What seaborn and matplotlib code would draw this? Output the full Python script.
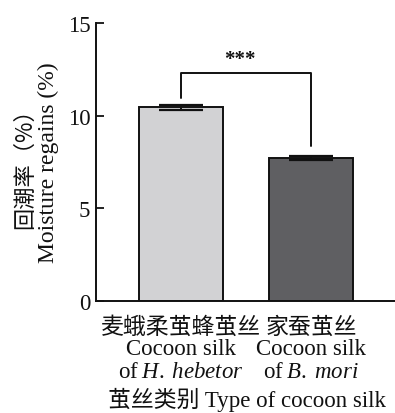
import matplotlib
matplotlib.use("Agg")
import matplotlib.pyplot as plt
import seaborn as sns
import pandas as pd

# Moisture regain of two cocoon silks (mean ± error)
categories = ["H. hebetor", "B. mori"]
cn_names = ["麦蛾柔茧蜂茧丝", "家蚕茧丝"]
species_it = [r"$\;\it{H.\;hebetor}$", r"$\;\it{B.\;mori}$"]
moisture = [10.45, 7.70]
errors = [0.14, 0.10]
bar_colors = ["#d2d2d4", "#5f5e63"]

# significance bracket (data units)
bracket_top = 12.3
bracket_ends = [10.95, 8.36]
sig_label = "***"

sns.set_theme(style="white")
plt.rcParams["font.family"] = ["Liberation Serif", "Noto Sans CJK SC"]
plt.rcParams["mathtext.fontset"] = "custom"
plt.rcParams["mathtext.it"] = "Liberation Serif:italic"
plt.rcParams["mathtext.rm"] = "Liberation Serif"

fig = plt.figure(figsize=(3.95, 4.14), dpi=100)
ax = fig.add_axes([0.243, 0.2705, 0.757, 0.672])

df = pd.DataFrame({"cat": categories, "val": moisture})
sns.barplot(data=df, x="cat", y="val", hue="cat", palette=bar_colors,
            width=0.65, edgecolor="#111111", linewidth=1.4,
            errorbar=None, legend=False, ax=ax)
ax.errorbar(range(len(categories)), moisture, yerr=errors, fmt="none",
            ecolor="#111111", elinewidth=1.4, capsize=15.5, capthick=1.6)

# bracket and stars
ax.plot([0, 0, 1, 1], [bracket_ends[0], bracket_top, bracket_top, bracket_ends[1]],
        color="#111111", lw=1.4)
ax.text(0.45, bracket_top + 0.75, sig_label, ha="center", va="center",
        fontsize=15, fontweight="bold", color="#111111")

ax.set_xlim(-0.654, 1.646)
ax.set_ylim(0, 15)
ax.set_yticks([0, 5, 10, 15])
ax.set_xticks([0, 1])
ax.set_xticklabels([])
ax.tick_params(axis="y", direction="in", length=6, width=1.3, labelsize=16.5,
               pad=4, colors="#111111", left=True)
ax.tick_params(axis="x", direction="in", length=3, width=1.0, bottom=True)

for s in ["top", "right"]:
    ax.spines[s].set_visible(False)
for s in ["left", "bottom"]:
    ax.spines[s].set_color("#111111")
    ax.spines[s].set_linewidth(1.4)

ax.set_xlabel("")
ax.set_ylabel("")

# category labels, three lines each
trans = ax.get_xaxis_transform()
line_y = [-0.0935, -0.169, -0.252]
for i in range(len(categories)):
    lines = [cn_names[i], "Cocoon silk", "of" + species_it[i]]
    for y, txt in zip(line_y, lines):
        ax.text(i, y, txt, transform=trans, ha="center", va="center",
                fontsize=16.5, color="#111111")

fig.text(0.625, 0.034, "茧丝类别 Type of cocoon silk", ha="center",
         va="center", fontsize=16.5, color="#111111")

# y-axis title, two lines
fig.text(0.063, 0.606, "回潮率（%）", rotation=90, ha="center", va="center",
         fontsize=16, color="#111111", family=["Noto Sans CJK SC"])
fig.text(0.122, 0.606, "Moisture regains (%)", rotation=90, ha="center",
         va="center", fontsize=17, color="#111111")

fig.savefig("out.png", dpi=100)
